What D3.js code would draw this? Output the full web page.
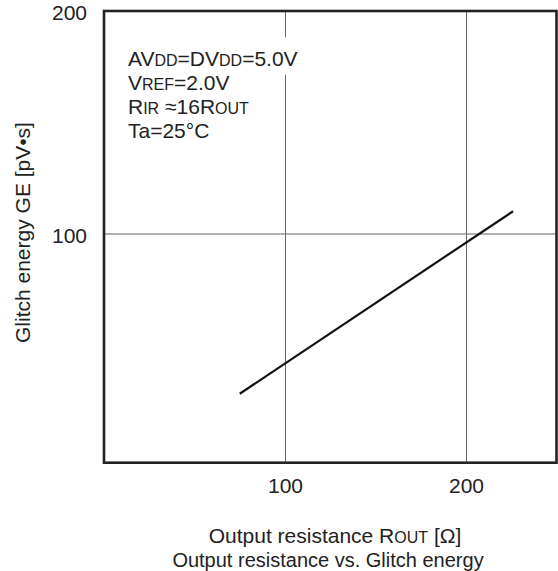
<!DOCTYPE html>
<html><head><meta charset="utf-8">
<script src="https://cdn.jsdelivr.net/npm/d3@7"></script>
<style>body{margin:0;background:#fff} text{font-family:"Liberation Sans",Arial,Helvetica,sans-serif;fill:#222}</style>
</head><body><svg id="c" width="558" height="571"></svg>
<script>
// ---- data ----
const xTickValues = [100, 200];
const yTickValues = [100, 200];
const xDomain = [0, 250];
const yDomain = [-3, 200];
const routValues = [75, 226];
const glitchValues = [28, 110];
const annotationLines = [
  [["AV", 0], ["DD", 1], ["=DV", 0], ["DD", 1], ["=5.0V", 0]],
  [["V", 0], ["REF", 1], ["=2.0V", 0]],
  [["R", 0], ["IR", 1], [" \u224816R", 0], ["OUT", 1]],
  [["Ta=25\u00B0C", 0]]
];
const xTitle = [["Output resistance R", 0], ["OUT", 1], [" [\u03A9]", 0]];
const yTitle = "Glitch energy GE [pV\u2022s]";
const caption = "Output resistance vs. Glitch energy";

// ---- layout ----
const svg = d3.select("#c");
const pL = 104, pR = 556.5, pT = 11, pB = 462.7;
const x = d3.scaleLinear().domain(xDomain).range([pL, pR]);
const y = d3.scaleLinear().domain(yDomain).range([pB, pT]);
const fs = 21, smallFs = 16;

// grid
svg.append("g").attr("transform", `translate(0,${pB})`)
  .call(d3.axisBottom(x).tickValues(xTickValues).tickSize(-(pB - pT)).tickFormat(""))
  .call(g => { g.select(".domain").remove(); g.selectAll("line").attr("stroke", "#666").attr("stroke-width", 1); });
svg.append("g").attr("transform", `translate(${pL},0)`)
  .call(d3.axisLeft(y).tickValues(yTickValues.filter(v => v < yDomain[1])).tickSize(-(pR - pL)).tickFormat(""))
  .call(g => { g.select(".domain").remove(); g.selectAll("line").attr("stroke", "#666").attr("stroke-width", 1); });

// tick labels
svg.append("g").attr("transform", `translate(0,${pB})`)
  .call(d3.axisBottom(x).tickValues(xTickValues).tickSize(0).tickPadding(15).tickFormat(d3.format("d")))
  .call(g => { g.select(".domain").remove(); g.selectAll("text").attr("font-size", fs).attr("font-family", null).style("fill", "#222"); });
svg.append("g").attr("transform", `translate(${pL},0)`)
  .call(d3.axisLeft(y).tickValues(yTickValues).tickSize(0).tickPadding(17).tickFormat(d3.format("d")))
  .call(g => { g.select(".domain").remove(); g.selectAll("text").attr("font-size", fs).attr("font-family", null).attr("dy", "0.42em").style("fill", "#222"); });

// annotation
function richText(sel, segs, size, small) {
  segs.forEach(([t, s]) => sel.append("tspan").attr("font-size", s ? small : size).text(t));
}
const annG = svg.append("g");
annotationLines.forEach((segs, i) => {
  const t = annG.append("text").attr("x", 128).attr("y", 65.5 + i * 24).attr("font-size", fs);
  richText(t, segs, fs, smallFs);
  const bb = t.node().getBBox();
  annG.insert("rect", "text").attr("x", bb.x - 3).attr("y", bb.y - 9).attr("width", bb.width + 6).attr("height", bb.height + 14).attr("fill", "#fff");
});

// data line
svg.append("path")
  .datum(routValues.map((v, i) => [v, glitchValues[i]]))
  .attr("d", d3.line().x(d => x(d[0])).y(d => y(d[1])))
  .attr("fill", "none").attr("stroke", "#111").attr("stroke-width", 2.2);

// frame
svg.append("rect").attr("x", pL).attr("y", pT).attr("width", pR - pL).attr("height", pB - pT)
  .attr("fill", "none").attr("stroke", "#222").attr("stroke-width", 2.6);

// titles
const xt = svg.append("text").attr("x", 335).attr("y", 542.5).attr("text-anchor", "middle").attr("font-size", fs);
richText(xt, xTitle, fs, smallFs);
svg.append("text").attr("x", 328).attr("y", 567).attr("text-anchor", "middle").attr("font-size", 20).text(caption);
svg.append("text").attr("transform", "translate(30,343) rotate(-90)").attr("text-anchor", "start").attr("font-size", fs).text(yTitle);
</script></body></html>
